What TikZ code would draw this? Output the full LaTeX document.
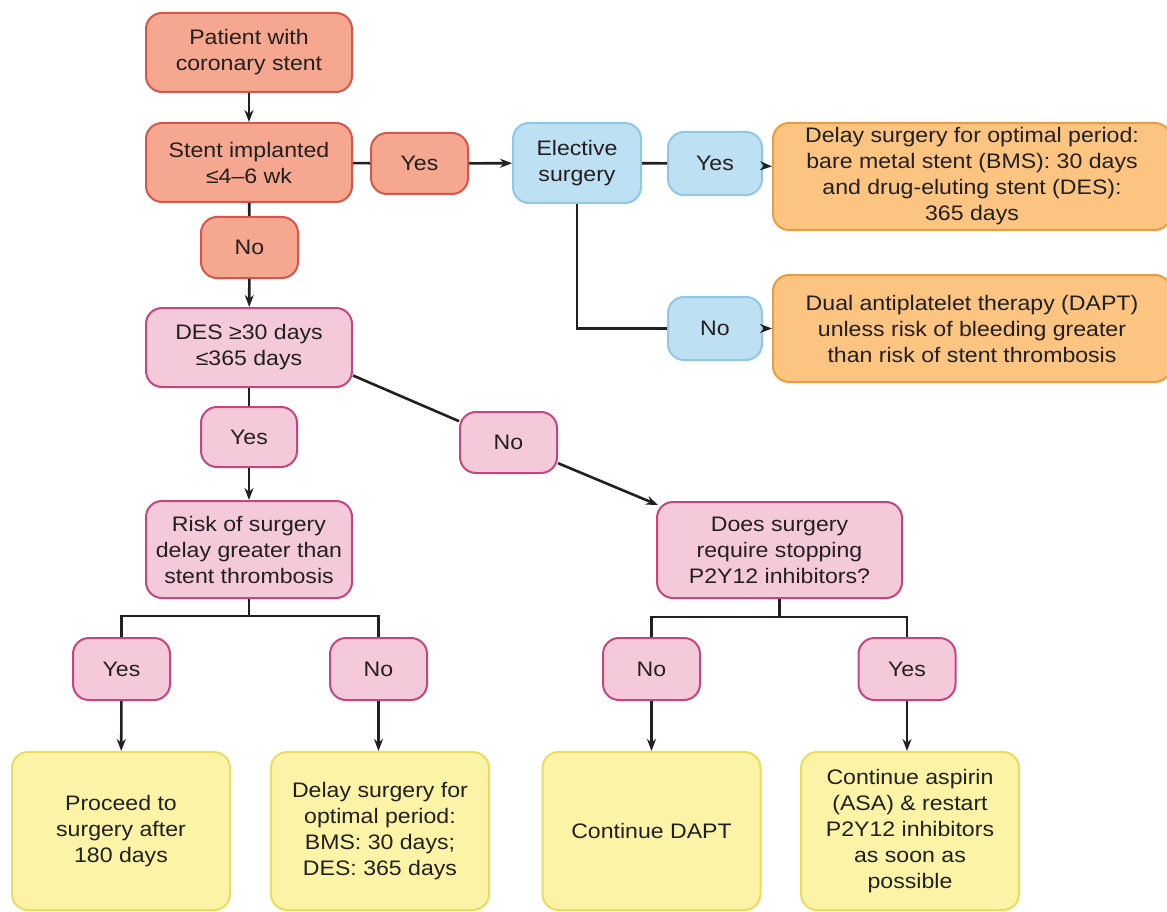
\documentclass[tikz,border=0pt]{standalone}
\usepackage{fontspec}
\setmainfont[FakeStretch=1.1]{Liberation Sans}
\usetikzlibrary{arrows.meta}
\definecolor{redfill}{HTML}{F5A88F}
\definecolor{redline}{HTML}{D4574C}
\definecolor{bluefill}{HTML}{BEE0F3}
\definecolor{blueline}{HTML}{8FC7E6}
\definecolor{orfill}{HTML}{FBC481}
\definecolor{orline}{HTML}{EA9D3E}
\definecolor{pkfill}{HTML}{F4CADB}
\definecolor{pkline}{HTML}{C4467F}
\definecolor{yefill}{HTML}{FBF4A6}
\definecolor{yeline}{HTML}{E8DD62}
\definecolor{txt}{HTML}{231F20}
\begin{document}
\begin{tikzpicture}[x=1pt,y=-1pt,
  box/.style={draw, rounded corners=16pt, line width=2pt, align=center, inner sep=0pt,
    font=\fontsize{21}{26}\selectfont, text=txt},
  redbox/.style={box, fill=redfill, draw=redline},
  bluebox/.style={box, fill=bluefill, draw=blueline},
  orbox/.style={box, fill=orfill, draw=orline},
  pkbox/.style={box, fill=pkfill, draw=pkline},
  yebox/.style={box, fill=yefill, draw=yeline},
  conn/.style={line width=2.6pt, draw=txt},
  arr/.style={conn, -{Stealth[length=12pt,width=9pt]}},
  ]
\fill[white] (0,0) rectangle (1167,912);
\useasboundingbox (0,0) rectangle (1167,912);

% top red column
\node[redbox, minimum width=206pt, minimum height=79pt] (patient) at (249,52.5) {Patient with\\coronary stent};
\node[redbox, minimum width=206pt, minimum height=79pt] (stent) at (249,162.5) {Stent implanted\\≤4–6 wk};
\node[redbox, minimum width=97pt, minimum height=61pt] (ryes) at (419.5,163.5) {Yes};
\node[redbox, minimum width=97pt, minimum height=61pt] (rno) at (249.5,247.5) {No};

% blue
\node[bluebox, minimum width=128pt, minimum height=80pt] (elect) at (577,163) {Elective\\surgery};
\node[bluebox, minimum width=94pt, minimum height=63pt] (byes) at (715,163.5) {Yes};
\node[bluebox, minimum width=94pt, minimum height=63pt] (bno) at (715,328.5) {No};

% orange
\node[orbox, minimum width=398pt, minimum height=107pt] (or1) at (972,176.5) {Delay surgery for optimal period:\\bare metal stent (BMS): 30 days\\and drug-eluting stent (DES):\\365 days};
\node[orbox, minimum width=398pt, minimum height=107pt] (or2) at (972,328.5) {Dual antiplatelet therapy (DAPT)\\unless risk of bleeding greater\\than risk of stent thrombosis};

% pink
\node[pkbox, minimum width=206pt, minimum height=79pt] (des) at (249,347.5) {DES ≥30 days\\≤365 days};
\node[pkbox, minimum width=96pt, minimum height=60pt] (pyes) at (249,437) {Yes};
\node[pkbox, minimum width=97pt, minimum height=61pt] (pno) at (508.5,442.5) {No};
\node[pkbox, minimum width=206pt, minimum height=97pt] (risk) at (249,549.5) {Risk of surgery\\delay greater than\\stent thrombosis};
\node[pkbox, minimum width=245pt, minimum height=96pt] (does) at (779.5,550) {Does surgery\\require stopping\\P2Y12 inhibitors?};

\node[pkbox, minimum width=97pt, minimum height=62pt] (ryes2) at (121.5,669) {Yes};
\node[pkbox, minimum width=97pt, minimum height=62pt] (rno2) at (378.5,669) {No};
\node[pkbox, minimum width=97pt, minimum height=62pt] (dno) at (651.5,669) {No};
\node[pkbox, minimum width=97pt, minimum height=62pt] (dyes) at (907,669) {Yes};

% yellow
\node[yebox, minimum width=218pt, minimum height=158pt] (y1) at (121,831) {Proceed to\\surgery after\\180 days};
\node[yebox, minimum width=218pt, minimum height=158pt] (y2) at (380,831) {Delay surgery for\\optimal period:\\BMS: 30 days;\\DES: 365 days};
\node[yebox, minimum width=218pt, minimum height=158pt] (y3) at (651.5,831) {Continue DAPT};
\node[yebox, minimum width=218pt, minimum height=158pt] (y4) at (910,831) {Continue aspirin\\(ASA) \& restart\\P2Y12 inhibitors\\as soon as\\possible};

% connectors
\draw[arr] (patient) -- (stent);
\draw[conn] (stent) -- (rno);
\draw[arr] (rno) -- (des);
\draw[conn] (stent) -- (ryes);
\draw[arr] (ryes) -- (elect);
\draw[conn] (elect) -- (byes);
\draw[arr] (byes) -- (or1);
\draw[conn] (elect.south) |- (bno.west);
\draw[arr] (bno) -- (or2);
\draw[conn] (des) -- (pyes);
\draw[arr] (pyes) -- (risk);
\coordinate (desout) at ([yshift=-28pt]des.east);
\coordinate (doesin) at ([xshift=2pt,yshift=-4pt]does.north west);
\draw[conn] (desout) -- (pno);
\draw[arr] (pno) -- (doesin);

\coordinate (rj) at (249,616);
\draw[conn] (risk.south) -- (rj);
\draw[conn] (ryes2.north) |- (rj) -| (rno2.north);
\draw[arr] (ryes2) -- (y1);
\draw[arr] (rno2) -- (rno2 |- y2.north);

\coordinate (dj) at (779.5,617);
\draw[conn] (does.south) -- (dj);
\draw[conn] (dno.north) |- (dj) -| (dyes.north);
\draw[arr] (dno) -- (y3);
\draw[arr] (dyes) -- (dyes |- y4.north);
\end{tikzpicture}
\end{document}
